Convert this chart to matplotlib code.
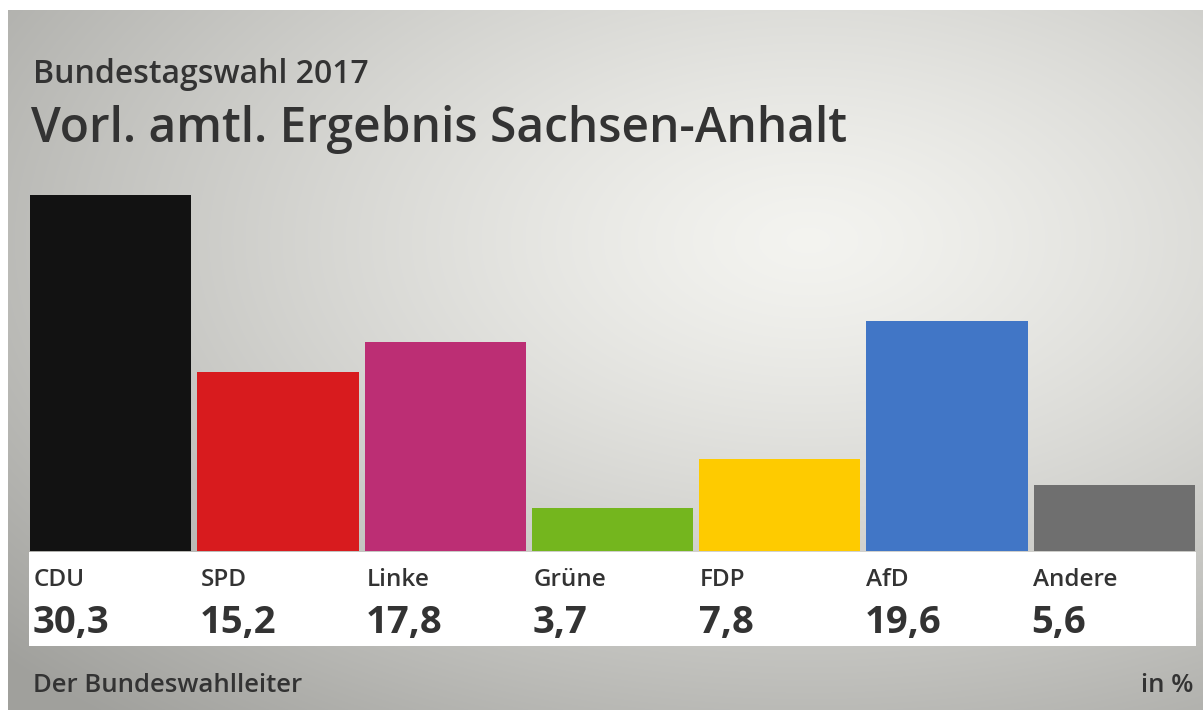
import numpy as np
import matplotlib
matplotlib.use("Agg")
import matplotlib.pyplot as plt
from matplotlib.patches import Rectangle

parties = ["CDU", "SPD", "Linke", "Grüne", "FDP", "AfD", "Andere"]
values = [30.3, 15.2, 17.8, 3.7, 7.8, 19.6, 5.6]
value_labels = ["30,3", "15,2", "17,8", "3,7", "7,8", "19,6", "5,6"]
colors = ["#121212", "#d81b1e", "#bc2e74", "#74b61e", "#fecb00", "#4176c6", "#6f6f6f"]

W, H = 1203, 710
fig = plt.figure(figsize=(W / 100, H / 100), dpi=100)
fig.patch.set_facecolor("white")

# background gradient
bg = fig.add_axes([8 / W, 0, (W - 8) / W, (H - 10) / H])
bg.set_axis_off()
yy, xx = np.mgrid[0:H - 10, 0:W - 8]
cx, cy = 800, 230
d = np.sqrt(((xx - cx) / 900.0) ** 2 + ((yy - cy) / 520.0) ** 2)
d = np.clip(d, 0, 1.2)
light = np.array([0.955, 0.955, 0.94])
dark = np.array([0.63, 0.63, 0.615])
t = (d / 1.2) ** 1.3
img = light[None, None, :] * (1 - t[..., None]) + dark[None, None, :] * t[..., None]
bg.imshow(img, aspect="auto", extent=[0, 1, 0, 1], origin="upper")
bg.set_xlim(0, 1)
bg.set_ylim(0, 1)

# white label band
fig.patches.append(Rectangle((29 / W, (H - 646) / H), (1196 - 29) / W, (646 - 552) / H,
                             transform=fig.transFigure, facecolor="white", edgecolor="none", zorder=1))

ax = fig.add_axes([30 / W, (H - 551) / H, 1165 / W, 376 / H])
ax.set_facecolor("none")
x = np.arange(len(parties))
ax.bar(x, values, width=0.965, color=colors, edgecolor="none")
ax.set_xlim(-0.4825, len(parties) - 1 + 0.4825)
ax.set_ylim(0, 32)
ax.set_axis_off()

txt = "#333333"
fam = ["Open Sans", "DejaVu Sans"]
for i, (p, v) in enumerate(zip(parties, value_labels)):
    xf = (30 + 166.43 * i + 4) / W
    fig.text(xf, (H - 586) / H, p, fontsize=17.5, color=txt, family=fam,
             ha="left", va="baseline", fontweight="semibold")
    fig.text(xf - 1 / W, (H - 633) / H, v, fontsize=27.5, color=txt, family=fam,
             ha="left", va="baseline", fontweight="bold")

fig.text(33 / W, (H - 83) / H, "Bundestagswahl 2017", fontsize=23, color=txt,
         family=fam, fontweight="semibold", ha="left", va="baseline")
fig.text(31 / W, (H - 142) / H, "Vorl. amtl. Ergebnis Sachsen-Anhalt", fontsize=34.5,
         color=txt, family=fam, fontweight="semibold", ha="left", va="baseline")
fig.text(33 / W, (H - 692) / H, "Der Bundeswahlleiter", fontsize=18.5, color=txt,
         family=fam, fontweight="semibold", ha="left", va="baseline")
fig.text(1193 / W, (H - 692) / H, "in %", fontsize=18.5, color=txt,
         family=fam, fontweight="semibold", ha="right", va="baseline")

fig.savefig("out.png", dpi=100)
